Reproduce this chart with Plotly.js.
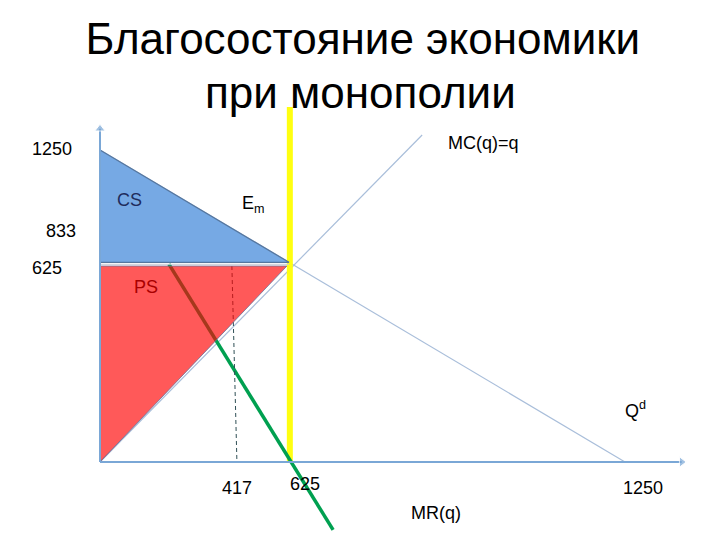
<!DOCTYPE html>
<html>
<head>
<meta charset="utf-8">
<script src="https://cdn.plot.ly/plotly-3.0.1.min.js"></script>
<style>html,body{margin:0;padding:0;background:#fff;}#chart{width:720px;height:540px;}</style>
</head>
<body>
<div id="chart"></div>
<script>
// Diagram values (diagram units)
const demandQ = [0, 1250];
const demandP = [1250, 0];
const mcQ = [0, 767];
const mcP = [0, 1310];
const mrQ = [164, 555];
const mrP = [793, -272];
const csQ = [0, 450, 0];
const csP = [1250, 800, 800];
const psQ = [0, 445, 0];
const psP = [785, 785, 0];
const priceQ = [0, 450];
const priceP = [792, 792];
const dashQ = [314, 326];
const dashP = [785, 0];
const monoQ = [452, 452];
const monoP = [1422, 0];
const yAxisQ = [0, 0];
const yAxisP = [0, 1335];
const xAxisQ = [0, 1385];
const xAxisP = [0, 0];

// Labels
const titleLine1 = "Благосостояние экономики";
const titleLine2 = "при монополии";
const labelText = ["1250", "833", "625", "CS", "E<sub>m</sub>", "PS", "417", "625", "1250", "MR(q)", "MC(q)=q", "Q<sup>d</sup>"];
const labelQ = [-114, -93, -126, 71, 333, 110, 326, 488, 1293, 800, 912, 1245];
const labelP = [1254, 925, 777, 1050, 1030, 701, -104, -88, -104, -204, 1278, 212];
const labelColor = ["#000", "#000", "#000", "#1F2D5C", "#000", "#A80000", "#000", "#000", "#000", "#000", "#000", "#000"];
const labelAnchor = ["center", "center", "center", "center", "left", "center", "center", "center", "center", "center", "center", "left"];

const FONT = "Liberation Sans, Arial, sans-serif";
const AXC = "#7AA7D6";

const traces = [
  {x: demandQ, y: demandP, mode: "lines", line: {color: "#A9BEDA", width: 1.2}, hoverinfo: "skip"},
  {x: mcQ, y: mcP, mode: "lines", line: {color: "#A9BEDA", width: 1.2}, hoverinfo: "skip"},
  {x: monoQ, y: monoP, mode: "lines", line: {color: "#FFFF10", width: 6}, hoverinfo: "skip"},
  {x: mrQ, y: mrP, mode: "lines", line: {color: "#00A050", width: 3.5}, hoverinfo: "skip"},
  {x: dashQ, y: dashP, mode: "lines", line: {color: "#2F4F55", width: 1, dash: "4px,3px"}, hoverinfo: "skip"},
  {x: csQ, y: csP, mode: "lines", fill: "toself", fillcolor: "#76A9E4", line: {color: "#56779F", width: 1.3}, hoverinfo: "skip"},
  {x: priceQ, y: priceP, mode: "lines", line: {color: "#C9CBD6", width: 1}, hoverinfo: "skip"},
  {x: psQ, y: psP, mode: "lines", fill: "toself", fillcolor: "rgba(255,0,0,0.65)", line: {color: "rgba(110,110,150,0.8)", width: 1}, hoverinfo: "skip"},
  {x: yAxisQ, y: yAxisP, mode: "lines+markers", line: {color: AXC, width: 2},
   marker: {symbol: ["circle", "triangle-up"], size: [0, 9], color: AXC}, hoverinfo: "skip"},
  {x: xAxisQ, y: xAxisP, mode: "lines+markers", line: {color: AXC, width: 2},
   marker: {symbol: ["circle", "triangle-right"], size: [0, 9], color: AXC}, hoverinfo: "skip"}
];

const annotations = labelText.map((t, i) => ({
  x: labelQ[i], y: labelP[i], xref: "x", yref: "y", text: t, showarrow: false,
  xanchor: labelAnchor[i], yanchor: "middle",
  font: {family: FONT, size: 18, color: labelColor[i]}
}));
annotations.push({
  x: 0.5, y: 0.8296, xref: "paper", yref: "paper", text: titleLine2, showarrow: false,
  xanchor: "center", yanchor: "middle",
  font: {family: FONT, size: 44, color: "#000"}
});

const layout = {
  width: 720, height: 540,
  margin: {l: 0, r: 0, t: 0, b: 0},
  paper_bgcolor: "#fff", plot_bgcolor: "#fff",
  showlegend: false,
  title: {
    text: titleLine1,
    font: {family: FONT, size: 44, color: "#000"},
    x: 0.504, xanchor: "center", xref: "paper",
    y: 0.928, yanchor: "middle", yref: "container"
  },
  xaxis: {range: [-238.1, 1476.2], visible: false, fixedrange: true},
  yaxis: {range: [-312.5, 1850.8], visible: false, fixedrange: true},
  annotations: annotations
};

Plotly.newPlot("chart", traces, layout, {displayModeBar: false, staticPlot: true});
</script>
</body>
</html>
